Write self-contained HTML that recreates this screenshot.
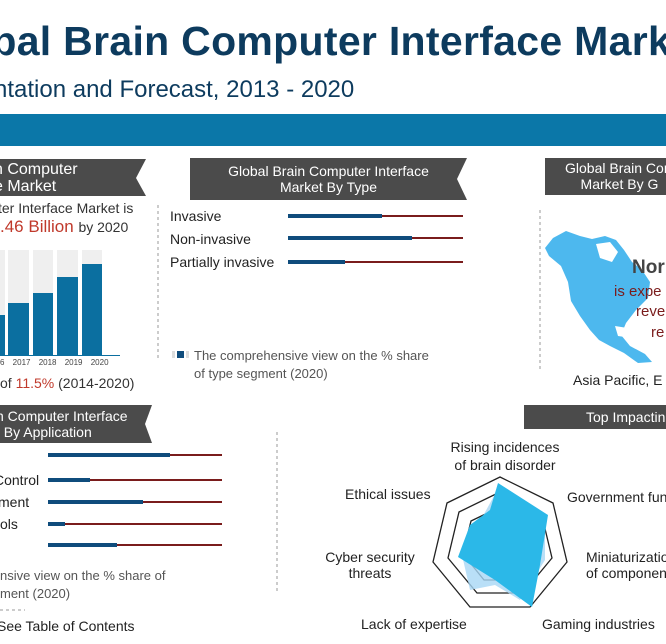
<!DOCTYPE html>
<html><head><meta charset="utf-8"><style>
html,body{margin:0;padding:0;background:#fff;width:666px;height:644px;overflow:hidden;position:relative;font-family:"Liberation Sans",sans-serif}
.a{position:absolute;white-space:nowrap}
.n{font-family:"Liberation Sans Narrow","Liberation Sans",sans-serif}
.hd{color:#fff;font-size:14px;line-height:16px;text-align:center}
.lb{font-size:14px;color:#222}
.g{color:#555;font-size:13px}
</style></head><body>
<div class="a" style="left:-34px;top:18px;font-size:41px;font-weight:bold;color:#0d3b5e;letter-spacing:0.3px">obal Brain Computer Interface Market</div>
<div class="a" style="left:-6px;top:76px;font-size:24px;color:#0d3b5e">ntation and Forecast, 2013 - 2020</div>
<div class="a" style="left:0;top:114px;width:666px;height:32px;background:#0b77a8"></div>

<svg class="a" style="left:0;top:0" width="666" height="644">
<polygon points="0,159 146,159 136,178 146,196 0,196" fill="#4b4b4b"/>
<polygon points="190,158 467,158 457,179 467,200 190,200" fill="#4b4b4b"/>
<rect x="545" y="158" width="121" height="37" fill="#4b4b4b"/>
<polygon points="0,405 152,405 145,424 152,443 0,443" fill="#4b4b4b"/>
<rect x="524" y="405" width="142" height="24" fill="#4b4b4b"/>
<line x1="158" y1="205" x2="158" y2="360" stroke="#999" stroke-dasharray="3,3"/>
<line x1="540" y1="210" x2="540" y2="372" stroke="#999" stroke-dasharray="3,3"/>
<line x1="277" y1="432" x2="277" y2="592" stroke="#999" stroke-dasharray="3,3"/>
<line x1="0" y1="610" x2="25" y2="610" stroke="#999" stroke-dasharray="3,3"/>
<g fill="#efefef">
<rect x="-12" y="250" width="17" height="105"/><rect x="8" y="250" width="21" height="105"/><rect x="33" y="250" width="20" height="105"/><rect x="57" y="250" width="21" height="105"/><rect x="82" y="250" width="20" height="105"/>
</g>
<g fill="#0b6fa0">
<rect x="-12" y="315" width="17" height="40"/><rect x="8" y="303" width="21" height="52"/><rect x="33" y="293" width="20" height="62"/><rect x="57" y="277" width="21" height="78"/><rect x="82" y="264" width="20" height="91"/>
</g>
<line x1="0" y1="355.5" x2="120" y2="355.5" stroke="#0b6fa0"/>
<g stroke="#7a1c1c" stroke-width="2">
<line x1="288" y1="216" x2="463" y2="216"/><line x1="288" y1="238" x2="463" y2="238"/><line x1="288" y1="262" x2="463" y2="262"/>
<line x1="48" y1="455" x2="222" y2="455"/><line x1="48" y1="480" x2="222" y2="480"/><line x1="48" y1="502" x2="222" y2="502"/><line x1="48" y1="524" x2="222" y2="524"/><line x1="48" y1="545" x2="222" y2="545"/>
</g>
<g stroke="#0f4c7c" stroke-width="4">
<line x1="288" y1="216" x2="382" y2="216"/><line x1="288" y1="238" x2="412" y2="238"/><line x1="288" y1="262" x2="345" y2="262"/>
<line x1="48" y1="455" x2="170" y2="455"/><line x1="48" y1="480" x2="90" y2="480"/><line x1="48" y1="502" x2="143" y2="502"/><line x1="48" y1="524" x2="65" y2="524"/><line x1="48" y1="545" x2="117" y2="545"/>
</g>
<rect x="172" y="351" width="3" height="7" fill="#ddd"/><rect x="177" y="351" width="7" height="7" fill="#0f4c7c"/><rect x="186" y="351" width="3" height="7" fill="#ddd"/>
<polygon points="545,248 553,238 566,231 580,236 592,239 605,236 616,240 624,250 632,262 642,270 650,282 648,298 636,310 626,323 621,335 630,346 645,354 652,362 638,363 624,353 610,346 599,340 590,330 580,316 571,301 568,282 561,266 549,256" fill="#4db8ee"/>
<polygon points="596,244 610,242 618,252 612,262 600,258" fill="#fff"/>
<polygon points="615,326 640,330 632,338 618,336" fill="#fff"/>
<g fill="none" stroke="#222" stroke-width="1.3">
<polygon points="500,477 553,503 567,562 530,607 470,607 433,562 447,503"/>
<polygon points="500,492 541,512 552,558 523,593 477,593 448,558 459,512"/>
<polygon points="500,507 529,521 537,554 516,580 484,580 463,554 471,521"/>
</g>
<polygon points="500,485 478,525 462,555 470,590 495,585 520,600 545,560 545,515" fill="#a7d7f5" opacity="0.8"/>
<polygon points="498,483 548,515 540,565 532,607 495,580 458,557 470,525 490,510" fill="#2bb8e8"/>
</svg>

<div class="a hd" style="left:-6px;top:161px;font-size:16px;line-height:17px;text-align:left">n Computer<br>e Market</div>
<div class="a" style="left:-2px;top:200px;font-size:14px;color:#333">ter Interface Market is</div>
<div class="a" style="left:0;top:217px;font-size:17px;color:#c0392b">.46 Billion <span style="font-size:14px;color:#333">by 2020</span></div>
<div class="a" style="left:0;top:358px;font-size:8px;color:#444;word-spacing:6px">6 2017 2018 2019 2020</div>
<div class="a" style="left:0;top:375px;font-size:14px;color:#333">of <span style="color:#c0392b">11.5%</span> (2014-2020)</div>

<div class="a hd" style="left:190px;top:163px;width:277px">Global Brain Computer Interface<br>Market By Type</div>
<div class="a lb" style="left:170px;top:208px">Invasive</div>
<div class="a lb" style="left:170px;top:231px">Non-invasive</div>
<div class="a lb" style="left:170px;top:254px">Partially invasive</div>
<div class="a g" style="left:194px;top:347px;line-height:18px">The comprehensive view on the % share<br>of type segment (2020)</div>

<div class="a hd" style="left:565px;top:160px;text-align:left">Global Brain Com<br>&nbsp;&nbsp;&nbsp;&nbsp;Market By G</div>
<div class="a" style="left:632px;top:257px;font-size:19px;font-weight:bold;color:#444">Nor</div>
<div class="a" style="left:614px;top:283px;font-size:15px;color:#7a1c1c">is expe</div>
<div class="a" style="left:636px;top:303px;font-size:15px;color:#7a1c1c">reve</div>
<div class="a" style="left:651px;top:324px;font-size:15px;color:#7a1c1c">re</div>
<div class="a" style="left:573px;top:372px;font-size:14px;color:#222">Asia Pacific, E</div>

<div class="a hd n" style="left:-4px;top:408px;text-align:left">n Computer Interface<br>t By Application</div>
<div class="a lb n" style="left:-6px;top:472px">Control</div>
<div class="a lb n" style="left:-2px;top:494px">ment</div>
<div class="a lb n" style="left:0;top:516px">ols</div>
<div class="a g" style="left:0;top:567px;line-height:18px">nsive view on the % share of<br>ment (2020)</div>
<div class="a n" style="left:-3px;top:618px;font-size:14px;color:#222">See Table of Contents</div>

<div class="a hd n" style="left:586px;top:409px;text-align:left">Top Impactin</div>
<div class="a lb n" style="left:440px;top:438px;width:130px;text-align:center;line-height:18px">Rising incidences<br>of brain disorder</div>
<div class="a lb n" style="left:345px;top:486px">Ethical issues</div>
<div class="a lb n" style="left:567px;top:489px">Government fun</div>
<div class="a lb n" style="left:320px;top:549px;width:100px;text-align:center;line-height:16px">Cyber security<br>threats</div>
<div class="a lb n" style="left:586px;top:549px;line-height:16px">Miniaturizatio<br>of componen</div>
<div class="a lb n" style="left:361px;top:616px">Lack of expertise</div>
<div class="a lb n" style="left:542px;top:616px">Gaming industries</div>
</body></html>
